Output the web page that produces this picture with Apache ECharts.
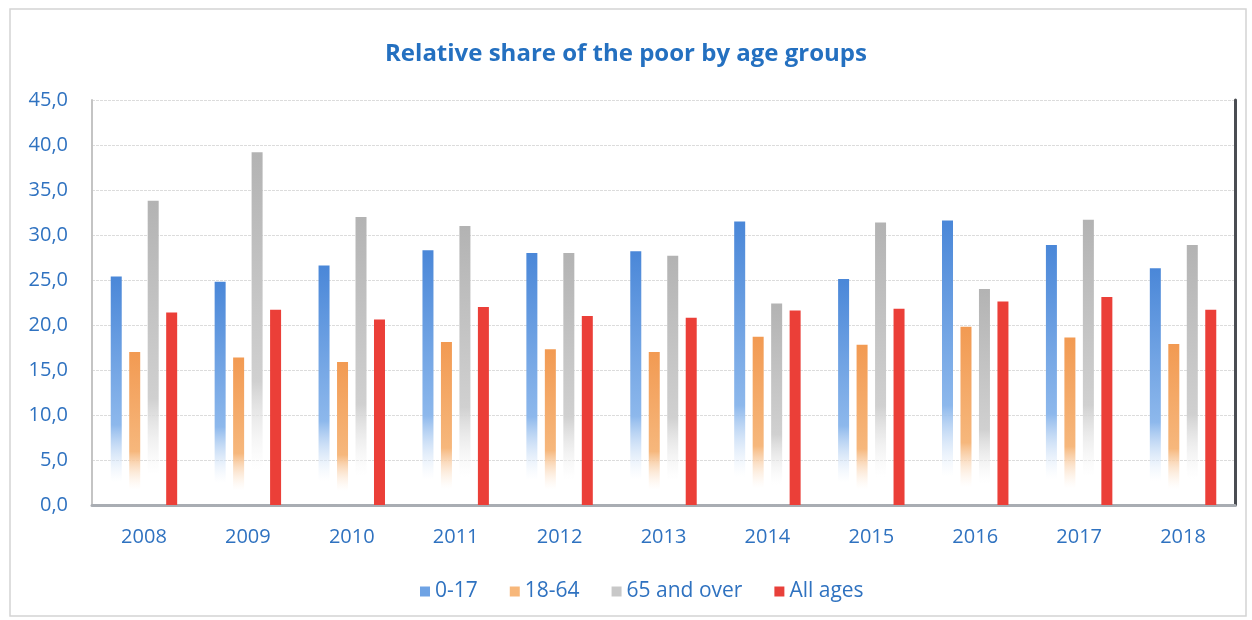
<!DOCTYPE html>
<html><head><meta charset="utf-8">
<script src="https://cdn.jsdelivr.net/npm/echarts@6/dist/echarts.min.js"></script>
<style>html,body{margin:0;padding:0;background:#fff}#c{width:1252px;height:620px}</style>
</head><body><div id="c"></div>
<script>
const years = ['2008','2009','2010','2011','2012','2013','2014','2015','2016','2017','2018'];
const age0_17 = [25.4, 24.8, 26.6, 28.3, 28.0, 28.2, 31.5, 25.1, 31.6, 28.9, 26.3];
const age18_64 = [17.0, 16.4, 15.9, 18.1, 17.3, 17.0, 18.7, 17.8, 19.8, 18.6, 17.9];
const age65plus = [33.8, 39.2, 32.0, 31.0, 28.0, 27.7, 22.4, 31.4, 24.0, 31.7, 28.9];
const allAges = [21.4, 21.7, 20.6, 22.0, 21.0, 20.8, 21.6, 21.8, 22.6, 23.1, 21.7];
const seriesNames = ['0-17', '18-64', '65 and over', 'All ages'];
const yTicks = [0, 45, 5];

function fade(top, mid){
  return new echarts.graphic.LinearGradient(0,0,0,1,[
    {offset:0,color:top},{offset:0.65,color:mid},{offset:0.9,color:'rgba(255,255,255,0.35)'},{offset:1,color:'rgba(255,255,255,0)'}]);
}
const font = 'Open Sans, Noto Sans, sans-serif';
const txt = '#2f72c0';
const chart = echarts.init(document.getElementById('c'));
const mk = (name, data, color) => ({
  name, type:'bar', data, barWidth:11, barGap:'68%',
  itemStyle:{color}
});
chart.setOption({
  animation:false,
  backgroundColor:'#fff',
  graphic:[{type:'rect',shape:{x:10,y:9,width:1236,height:607},style:{fill:'none',stroke:'#d4d4d4',lineWidth:1.5},silent:true}],
  title:{text:'Relative share of the poor by age groups',left:'center',top:37,
    textStyle:{color:'#2470c0',fontSize:24,fontWeight:'bold',fontFamily:font}},
  legend:{bottom:13,left:415,itemWidth:10,itemHeight:10,itemGap:32,icon:'rect',
    textStyle:{color:txt,fontSize:21,fontFamily:font},
    data:[{name:seriesNames[0],itemStyle:{color:'#6fa3e4'}},{name:seriesNames[1],itemStyle:{color:'#f7b77a'}},{name:seriesNames[2],itemStyle:{color:'#c8c8c8'}},{name:seriesNames[3],itemStyle:{color:'#e8403a'}}]},
  grid:{left:92,right:17,top:100,bottom:115},
  xAxis:{type:'category',data:years,
    axisLine:{lineStyle:{color:'#a9adb3',width:3}},axisTick:{show:false},
    axisLabel:{color:txt,fontSize:20,fontFamily:font,margin:22}},
  yAxis:[{type:'value',min:yTicks[0],max:yTicks[1],interval:yTicks[2],
    axisLine:{show:true,lineStyle:{color:'#c4c4c4',width:2}},
    axisLabel:{color:txt,fontSize:20,fontFamily:font,margin:24,formatter:v=>v.toFixed(1).replace('.',',')},
    splitLine:{lineStyle:{color:'#dcdcdc',type:[3,1]}}},
    {type:'value',position:'right',min:yTicks[0],max:yTicks[1],interval:yTicks[2],
    axisLine:{show:true,lineStyle:{color:'#4a4d52',width:3}},axisLabel:{show:false},splitLine:{show:false},axisTick:{show:false}}],
  series:[
    mk(seriesNames[0], age0_17, fade('#4a87d8','#8db8ec')),
    mk(seriesNames[1], age18_64, fade('#f29a52','#f6b77c')),
    mk(seriesNames[2], age65plus, fade('#b3b3b3','#d0d0d0')),
    mk(seriesNames[3], allAges, '#eb3f38')
  ]
});
</script></body></html>
